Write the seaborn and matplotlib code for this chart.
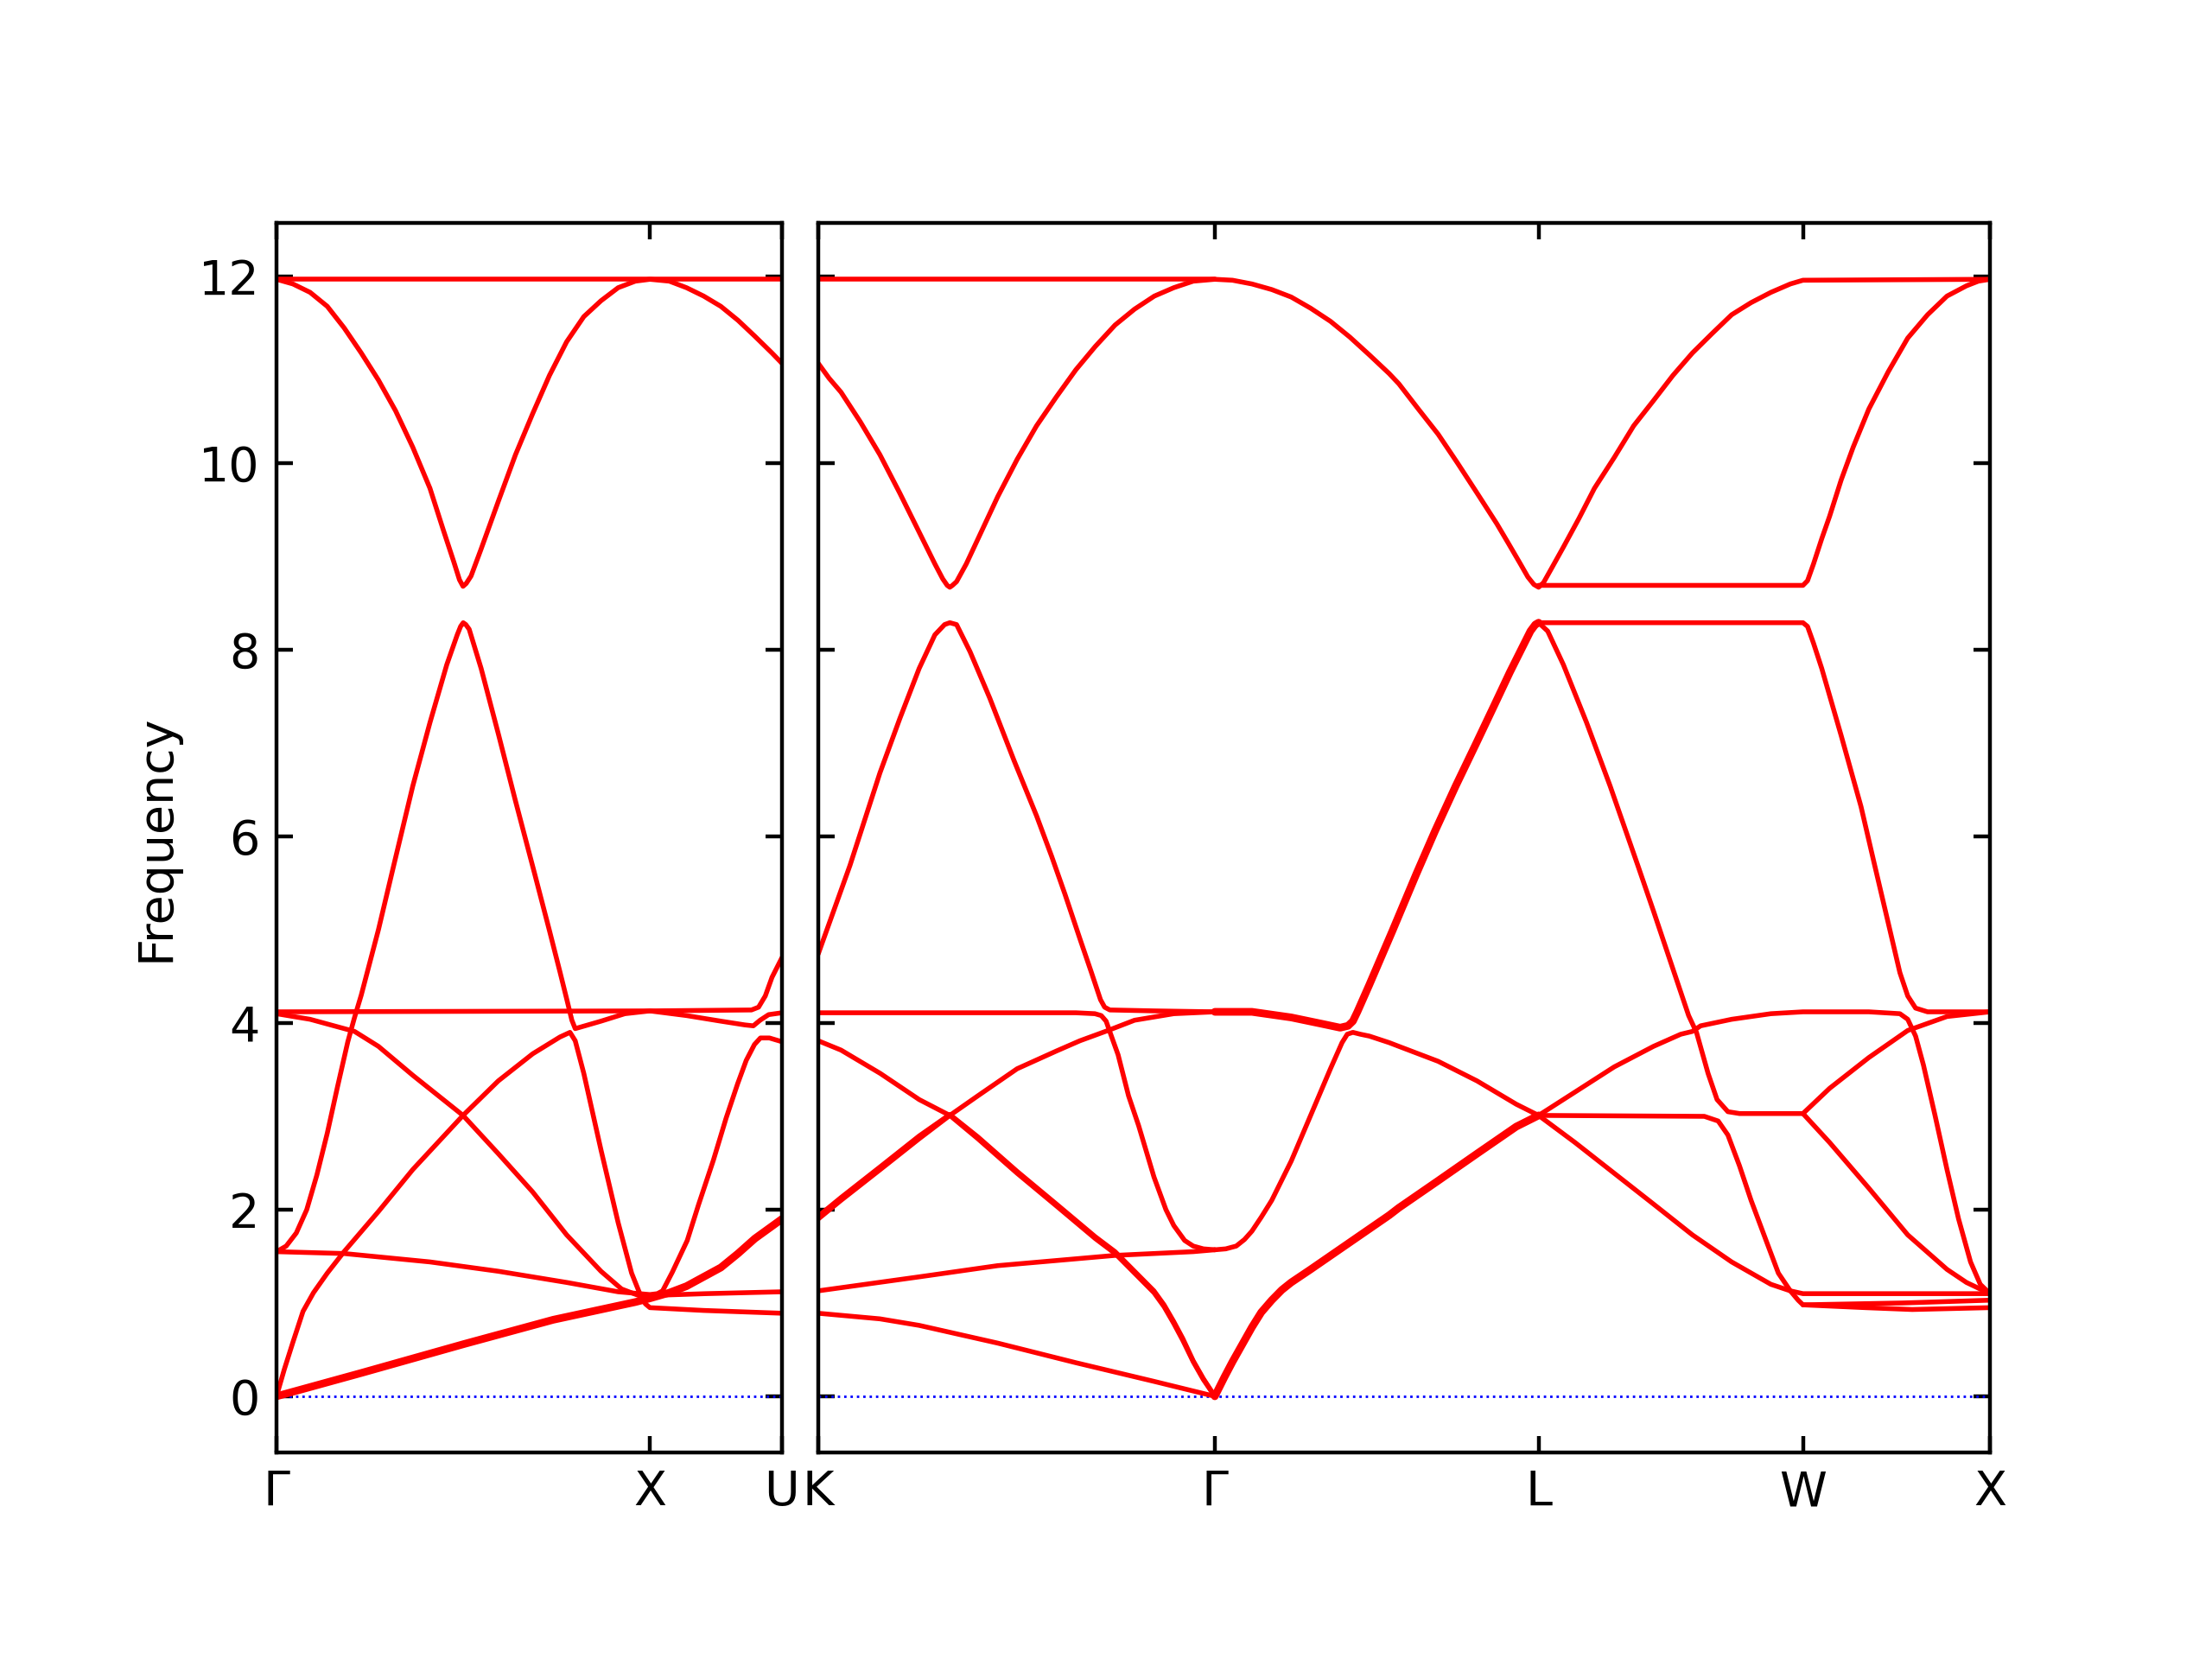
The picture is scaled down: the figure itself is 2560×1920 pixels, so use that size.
import matplotlib
matplotlib.use("Agg")
import matplotlib.pyplot as plt
import seaborn as sns

# high-symmetry points (distance along the path), left panel G-X-U, right panel K-G-L-W-X
left_ticks = [0.0, 1.0, 1.3536]
left_labels = ["Γ", "X", "U"]
right_ticks = [0.0, 1.0607, 1.9267, 2.6338, 3.1338]
right_labels = ["K", "Γ", "L", "W", "X"]

# ---- left panel bands (Γ -> X -> U) ----
lb_top_k = [0.0, 1.3536]
lb_top_f = [11.97, 11.97]

lb_a_k = [0, 0.044, 0.090, 0.136, 0.181, 0.227, 0.273, 0.319, 0.365, 0.411, 0.447, 0.475, 0.490,
          0.4995, 0.508, 0.521, 0.548, 0.594, 0.640, 0.686, 0.731, 0.777, 0.823, 0.869, 0.915,
          0.961, 1.0, 1.052, 1.098, 1.144, 1.190, 1.236, 1.281, 1.327, 1.3536]
lb_a_f = [11.97, 11.92, 11.83, 11.68, 11.45, 11.18, 10.89, 10.56, 10.17, 9.73, 9.28, 8.94, 8.75,
          8.68, 8.71, 8.79, 9.08, 9.59, 10.09, 10.53, 10.94, 11.30, 11.57, 11.74, 11.88,
          11.95, 11.97, 11.95, 11.88, 11.79, 11.68, 11.53, 11.36, 11.18, 11.07]

lb_b_k = [0, 0.026, 0.053, 0.081, 0.108, 0.136, 0.163, 0.191, 0.209, 0.227, 0.273, 0.314, 0.365,
          0.411, 0.456, 0.484, 0.493, 0.50, 0.507, 0.516, 0.548, 0.594, 0.640, 0.690, 0.731, 0.759,
          0.777, 0.791, 0.80, 0.869, 0.933, 1.0, 1.098, 1.19, 1.254, 1.277, 1.295, 1.318, 1.3536]
lb_b_f = [1.55, 1.61, 1.75, 2.00, 2.37, 2.82, 3.31, 3.80, 4.06, 4.30, 5.00, 5.69, 6.54,
          7.22, 7.84, 8.16, 8.25, 8.29, 8.27, 8.22, 7.80, 7.10, 6.38, 5.62, 4.99, 4.55,
          4.26, 4.03, 3.94, 4.02, 4.10, 4.13, 4.08, 4.02, 3.98, 3.97, 4.03, 4.09, 4.11]

lb_flat_k = [0, 1.0, 1.272, 1.291, 1.309, 1.327, 1.3536]
lb_flat_f = [4.12, 4.13, 4.14, 4.17, 4.29, 4.49, 4.70]

lb_c_k = [0, 0.09, 0.209, 0.273, 0.365, 0.4995, 0.594, 0.686, 0.777, 0.869, 0.924, 0.97, 1.0, 1.15, 1.3536]
lb_c_f = [4.10, 4.04, 3.91, 3.75, 3.44, 3.01, 2.60, 2.19, 1.73, 1.34, 1.15, 1.08, 1.08, 1.10, 1.12]

lb_d_k = [0, 0.181, 0.411, 0.594, 0.777, 0.915, 1.0, 1.02, 1.034, 1.06, 1.10, 1.13, 1.17, 1.204,
          1.235, 1.258, 1.28, 1.296, 1.32, 1.3536]
lb_d_f = [1.55, 1.53, 1.44, 1.34, 1.22, 1.12, 1.09, 1.10, 1.13, 1.33, 1.67, 2.05, 2.53, 2.98,
          3.35, 3.60, 3.77, 3.84, 3.84, 3.80]

lb_la_k = [0, 0.021, 0.044, 0.071, 0.099, 0.136, 0.181, 0.273, 0.365, 0.4995, 0.594, 0.686, 0.759,
           0.786, 0.80, 0.823, 0.869, 0.915, 0.951, 0.974, 0.988, 1.0, 1.144, 1.3536]
lb_la_f = [0, 0.29, 0.58, 0.91, 1.11, 1.32, 1.55, 1.98, 2.43, 3.01, 3.38, 3.67, 3.85,
           3.90, 3.81, 3.46, 2.64, 1.86, 1.32, 1.09, 0.99, 0.95, 0.92, 0.89]

lb_ta_k = [0, 0.227, 0.502, 0.741, 0.961, 1.0, 1.052, 1.098, 1.144, 1.19, 1.236, 1.281, 1.3536]
lb_ta_f = [0, 0.25, 0.56, 0.82, 1.01, 1.05, 1.11, 1.18, 1.28, 1.38, 1.53, 1.69, 1.90]

# ---- right panel bands (K -> Γ -> L -> W -> X) ----
rb_top_k = [0.0, 1.0607]
rb_top_f = [11.97, 11.97]

rb_d_k = [0, 0.029, 0.061, 0.113, 0.165, 0.218, 0.270, 0.312, 0.333, 0.345, 0.352, 0.359, 0.370,
          0.396, 0.438, 0.480, 0.532, 0.584, 0.637, 0.689, 0.741, 0.794, 0.846, 0.899, 0.951,
          1.003, 1.0607, 1.108, 1.160, 1.213, 1.265, 1.317, 1.370, 1.422, 1.474, 1.527, 1.553,
          1.605, 1.658, 1.710, 1.762, 1.815, 1.846, 1.878, 1.898, 1.914, 1.9267, 1.940, 1.961,
          1.993, 2.035, 2.076, 2.129, 2.181, 2.234, 2.286, 2.338, 2.391, 2.443, 2.495, 2.548,
          2.600, 2.6338, 3.1338]
rb_d_f = [11.07, 10.91, 10.76, 10.44, 10.09, 9.68, 9.26, 8.92, 8.76, 8.69, 8.67, 8.69, 8.73,
          8.92, 9.28, 9.64, 10.04, 10.40, 10.71, 11.00, 11.25, 11.48, 11.65, 11.79, 11.88,
          11.95, 11.97, 11.96, 11.92, 11.86, 11.78, 11.66, 11.52, 11.35, 11.16, 10.96, 10.85,
          10.58, 10.31, 10.00, 9.68, 9.35, 9.14, 8.92, 8.78, 8.70, 8.67, 8.72, 8.87,
          9.10, 9.41, 9.73, 10.06, 10.40, 10.67, 10.94, 11.18, 11.39, 11.59, 11.72, 11.83,
          11.92, 11.96, 11.97]

rb_lw8_k = [1.9267, 2.6338, 2.646, 2.662, 2.684, 2.705, 2.736, 2.768, 2.810, 2.862, 2.914, 2.967,
            3.019, 3.071, 3.103, 3.1338]
rb_lw8_f = [8.69, 8.69, 8.74, 8.92, 9.19, 9.43, 9.82, 10.17, 10.58, 10.98, 11.34, 11.59,
            11.79, 11.90, 11.95, 11.97]

rb_e_k = [0, 0.085, 0.165, 0.218, 0.270, 0.312, 0.338, 0.352, 0.370, 0.406, 0.459, 0.524, 0.584,
          0.624, 0.660, 0.701, 0.730, 0.755, 0.766, 0.780, 0.900, 1.0607]
rb_e_f = [4.74, 5.69, 6.68, 7.26, 7.80, 8.16, 8.27, 8.29, 8.27, 7.98, 7.48, 6.81, 6.22,
          5.79, 5.38, 4.89, 4.55, 4.25, 4.17, 4.14, 4.13, 4.12]

rb_gl_k = [1.0607, 1.160, 1.265, 1.349, 1.396, 1.417, 1.430, 1.442, 1.474, 1.535, 1.600, 1.650,
           1.705, 1.759, 1.810, 1.850, 1.885, 1.905, 1.918, 1.9267]
rb_gl_f = [4.12, 4.12, 4.06, 3.99, 3.95, 3.97, 4.02, 4.12, 4.41, 4.98, 5.60, 6.06,
           6.54, 6.99, 7.42, 7.76, 8.04, 8.20, 8.27, 8.29]

rb_lx_k = [1.9267, 2.6338, 2.646, 2.662, 2.684, 2.736, 2.789, 2.825, 2.862, 2.893, 2.914, 2.935,
           2.967, 3.1338]
rb_lx_f = [8.29, 8.29, 8.25, 8.07, 7.80, 7.08, 6.32, 5.70, 5.07, 4.54, 4.29, 4.16, 4.12, 4.12]

rb_ld_k = [1.9267, 1.951, 1.993, 2.055, 2.118, 2.192, 2.234, 2.286, 2.328, 2.349, 2.380, 2.404,
           2.433, 2.464, 2.6338, 2.705, 2.810, 2.914, 3.019, 3.1338]
rb_ld_f = [8.29, 8.20, 7.84, 7.22, 6.54, 5.69, 5.20, 4.58, 4.08, 3.90, 3.46, 3.18,
           3.05, 3.03, 3.03, 3.30, 3.63, 3.92, 4.07, 4.12]

rb_wx_k = [2.6338, 2.705, 2.810, 2.914, 3.019, 3.071, 3.1338]
rb_wx_f = [3.03, 2.72, 2.23, 1.73, 1.36, 1.22, 1.10]

rb_ac_k = [1.9267, 2.024, 2.129, 2.234, 2.307, 2.338, 2.360, 2.443, 2.548, 2.6338, 2.810, 2.893,
           2.914, 2.935, 2.956, 2.987, 3.019, 3.050, 3.082, 3.108, 3.1338]
rb_ac_f = [3.01, 3.26, 3.53, 3.75, 3.88, 3.91, 3.97, 4.04, 4.10, 4.12, 4.12, 4.10,
           4.04, 3.86, 3.55, 3.01, 2.43, 1.90, 1.44, 1.20, 1.10]

rb_l3_k = [1.9267, 2.370, 2.407, 2.433, 2.464, 2.495, 2.537, 2.568, 2.600, 2.621, 2.6338, 2.80,
           2.926, 3.1338]
rb_l3_f = [3.01, 3.00, 2.95, 2.80, 2.47, 2.10, 1.65, 1.32, 1.13, 1.03, 0.98, 0.95, 0.93, 0.95]

rb_u_k = [1.0607, 1.090, 1.118, 1.140, 1.160, 1.185, 1.213, 1.265, 1.317, 1.370, 1.401, 1.415,
          1.430, 1.450, 1.474, 1.527, 1.553, 1.658, 1.762, 1.867, 1.9267, 2.024, 2.129, 2.234,
          2.338, 2.443, 2.548, 2.600, 2.6338, 3.1338]
rb_u_f = [1.57, 1.58, 1.61, 1.68, 1.77, 1.92, 2.10, 2.52, 3.01, 3.51, 3.79, 3.88,
          3.90, 3.88, 3.86, 3.79, 3.75, 3.59, 3.38, 3.13, 3.01, 2.72, 2.39, 2.06,
          1.73, 1.44, 1.20, 1.13, 1.10, 1.10]

rb_gac_k = [1.0607, 1.087, 1.108, 1.160, 1.185, 1.213, 1.240, 1.265, 1.317, 1.422, 1.527, 1.553,
            1.658, 1.762, 1.867, 1.9267]
rb_gac_f = [0, 0.21, 0.37, 0.74, 0.90, 1.03, 1.14, 1.22, 1.36, 1.65, 1.94, 2.02,
            2.31, 2.60, 2.89, 3.01]

rb_wm_k = [2.6338, 2.90, 3.1338]
rb_wm_f = [0.98, 1.00, 1.03]

rb_kf_k = [0, 0.375, 0.689, 0.740, 0.757, 0.770, 0.785, 0.802, 0.830, 0.857, 0.898, 0.930, 0.951,
           0.980, 1.003, 1.030, 1.0607]
rb_kf_f = [4.11, 4.11, 4.11, 4.10, 4.08, 4.02, 3.85, 3.66, 3.22, 2.90, 2.35, 2.00, 1.83,
           1.67, 1.61, 1.58, 1.57]

rb_f_k = [0, 0.061, 0.166, 0.270, 0.352, 0.427, 0.532, 0.637, 0.741, 0.794, 0.846, 0.898, 0.925,
          0.951, 0.975, 1.003, 1.030, 1.0607]
rb_f_f = [3.81, 3.71, 3.46, 3.18, 3.01, 2.76, 2.39, 2.04, 1.69, 1.53, 1.32, 1.11, 0.96,
          0.78, 0.60, 0.37, 0.18, 0.0]

rb_g_k = [0, 0.061, 0.166, 0.270, 0.352, 0.427, 0.532, 0.637, 0.700, 0.775, 0.846, 0.951, 1.0607]
rb_g_f = [1.90, 2.10, 2.43, 2.76, 3.01, 3.22, 3.51, 3.70, 3.81, 3.92, 4.03, 4.10, 4.12]

# second band of the near-degenerate pair starting at 1.9 at K
rb_g2_k = [0, 0.061, 0.166, 0.270, 0.352, 0.427, 0.532, 0.637, 0.741, 0.794, 0.846, 0.898, 0.925,
           0.951, 0.975, 1.003, 1.030, 1.0607]
rb_g2_f = [1.93, 2.13, 2.46, 2.79, 3.02, 2.78, 2.41, 2.06, 1.71, 1.55, 1.34, 1.13, 0.98,
           0.80, 0.62, 0.38, 0.19, 0.0]

rb_h_k = [0, 0.270, 0.480, 0.794, 1.003, 1.0607]
rb_h_f = [1.13, 1.28, 1.40, 1.51, 1.55, 1.57]

rb_i_k = [0, 0.165, 0.270, 0.480, 0.689, 0.898, 1.0607]
rb_i_f = [0.89, 0.83, 0.76, 0.57, 0.36, 0.16, 0.0]

left_bands = [(lb_top_k, lb_top_f), (lb_a_k, lb_a_f), (lb_b_k, lb_b_f), (lb_flat_k, lb_flat_f),
              (lb_c_k, lb_c_f), (lb_d_k, lb_d_f), (lb_la_k, lb_la_f)]
left_thick = [(lb_ta_k, lb_ta_f)]
right_bands = [(rb_top_k, rb_top_f), (rb_d_k, rb_d_f), (rb_lw8_k, rb_lw8_f), (rb_e_k, rb_e_f),
               (rb_lx_k, rb_lx_f), (rb_ld_k, rb_ld_f), (rb_wx_k, rb_wx_f), (rb_ac_k, rb_ac_f),
               (rb_l3_k, rb_l3_f), (rb_u_k, rb_u_f), (rb_wm_k, rb_wm_f), (rb_kf_k, rb_kf_f),
               (rb_f_k, rb_f_f), (rb_g_k, rb_g_f), (rb_g2_k, rb_g2_f), (rb_h_k, rb_h_f),
               (rb_i_k, rb_i_f)]
right_thick = [(rb_gl_k, rb_gl_f), (rb_gac_k, rb_gac_f)]

sns.set_style("ticks", {"xtick.direction": "in", "ytick.direction": "in",
                        "xtick.top": True, "ytick.right": True,
                        "axes.edgecolor": "black", "xtick.color": "black",
                        "ytick.color": "black", "text.color": "black",
                        "axes.labelcolor": "black"})
plt.rcParams["font.family"] = ["DejaVu Sans"]
plt.rcParams["font.size"] = 10

fig = plt.figure(figsize=(6.4, 4.8), dpi=400)
ax1 = fig.add_axes([0.125, 0.1246, 0.2285, 0.7408])
ax2 = fig.add_axes([0.3699, 0.1246, 0.5297, 0.7408])

for ax, bands, thick, ticks, labels in [(ax1, left_bands, left_thick, left_ticks, left_labels),
                                        (ax2, right_bands, right_thick, right_ticks, right_labels)]:
    ax.axhline(0, color="blue", linestyle=":", linewidth=0.5)
    for k, f in bands:
        sns.lineplot(x=k, y=f, ax=ax, color="red", linewidth=1.0, sort=False, estimator=None)
    for k, f in thick:
        sns.lineplot(x=k, y=f, ax=ax, color="red", linewidth=1.6, sort=False, estimator=None)
    ax.set_xlim(ticks[0], ticks[-1])
    ax.set_ylim(-0.6, 12.57)
    ax.set_xticks(ticks)
    ax.set_xticklabels(labels)
    ax.set_yticks([0, 2, 4, 6, 8, 10, 12])
    ax.tick_params(direction="in", top=True, right=True, length=3.5, width=0.8, pad=3.5)
    for s in ax.spines.values():
        s.set_linewidth(0.8)
    ax.set_xlabel("")

ax1.set_ylabel("Frequency")
ax2.set_ylabel("")
ax2.tick_params(labelleft=False)

fig.savefig("out.png", dpi=400)
